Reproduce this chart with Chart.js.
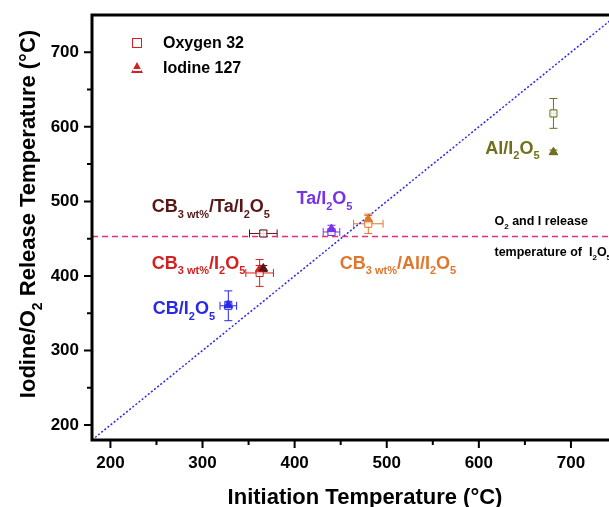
<!DOCTYPE html>
<html>
<head>
<meta charset="utf-8">
<script src="https://cdn.jsdelivr.net/npm/chart.js@4.4.0/dist/chart.umd.min.js"></script>
<style>
  html, body { margin: 0; padding: 0; background: #fff; overflow: hidden; }
  #chart { display: block; }
</style>
</head>
<body>
<canvas id="chart" width="623" height="507"></canvas>
<script>
// --- data ---
const materials = ['CB/I_2O_5', 'CB_{3 wt%}/I_2O_5', 'CB_{3 wt%}/Ta/I_2O_5', 'Ta/I_2O_5', 'CB_{3 wt%}/Al/I_2O_5', 'Al/I_2O_5'];
const colors = ['rgb(40,40,235)', 'rgb(212,32,32)', 'rgb(88,22,22)', 'rgb(118,52,232)', 'rgb(226,118,44)', 'rgb(112,112,28)'];
const initTemp = [328, 362, 366, 440, 480, 681];
const initErr = [9, 15, 15, 9, 16, 2];
const oxygenTemp = [360, 404, 457, 459, 470, 618];
const oxygenErr = [20, 18, 4, 4, 13, 20];
const iodineTemp = [361, 409, 410, 463, 476, 566];
const iodineErr = [5, 5, 4, 5, 5, 3];

// label anchor points (data units)
const labelX = [246, 245, 245, 402, 449, 607];
const labelY = [349, 410, 486, 496, 410, 564];

const releaseTemp = 453;           // O2 and I release temperature of I2O5
const diagRange = [180, 750];      // y = x guide
const xTicks = [200, 300, 400, 500, 600, 700];
const yTicks = [200, 300, 400, 500, 600, 700];
const xMinor = [250, 350, 450, 550, 650, 750];
const yMinor = [250, 350, 450, 550, 650];

const FONT = 'Arial, "Liberation Sans", sans-serif';

// draw "A_{sub}B_2" style strings
function splitRich(str) {
    const parts = [];
    const re = /_\{([^}]*)\}|_(.)|([^_]+)/g;
    let m;
    while ((m = re.exec(str)) !== null) {
        if (m[1] !== undefined) parts.push({t: m[1], sub: true});
        else if (m[2] !== undefined) parts.push({t: m[2], sub: true});
        else parts.push({t: m[3], sub: false});
    }
    return parts;
}

function richWidth(ctx, str, size) {
    let w = 0;
    for (const p of splitRich(str)) {
        ctx.font = `bold ${p.sub ? Math.round(size * 0.62) : size}px ${FONT}`;
        w += ctx.measureText(p.t).width;
    }
    return w;
}

function drawRich(ctx, x, y, str, size, color) {
    ctx.fillStyle = color;
    ctx.textAlign = 'left';
    ctx.textBaseline = 'alphabetic';
    let cx = x;
    for (const p of splitRich(str)) {
        ctx.font = `bold ${p.sub ? Math.round(size * 0.62) : size}px ${FONT}`;
        ctx.fillText(p.t, cx, p.sub ? y + size * 0.32 : y);
        cx += ctx.measureText(p.t).width;
    }
}

const framePlugin = {
    id: 'frame',
    beforeDatasetsDraw(chart) {
        const ctx = chart.ctx;
        const xs = chart.scales.x, ys = chart.scales.y;
        ctx.save();
        ctx.lineWidth = 1;
        for (let i = 0; i < materials.length; i++) {
            ctx.strokeStyle = colors[i];
            const px = xs.getPixelForValue(initTemp[i]);
            const pyO = ys.getPixelForValue(oxygenTemp[i]);
            // horizontal bar at oxygen point
            const x0 = xs.getPixelForValue(initTemp[i] - initErr[i]);
            const x1 = xs.getPixelForValue(initTemp[i] + initErr[i]);
            ctx.beginPath();
            ctx.moveTo(x0, pyO); ctx.lineTo(x1, pyO);
            ctx.moveTo(x0, pyO - 4); ctx.lineTo(x0, pyO + 4);
            ctx.moveTo(x1, pyO - 4); ctx.lineTo(x1, pyO + 4);
            // vertical bars
            [[oxygenTemp[i], oxygenErr[i]], [iodineTemp[i], iodineErr[i]]].forEach(([v, e]) => {
                const y0 = ys.getPixelForValue(v - e);
                const y1 = ys.getPixelForValue(v + e);
                ctx.moveTo(px, y0); ctx.lineTo(px, y1);
                ctx.moveTo(px - 4, y0); ctx.lineTo(px + 4, y0);
                ctx.moveTo(px - 4, y1); ctx.lineTo(px + 4, y1);
            });
            ctx.stroke();
        }
        ctx.restore();
    },
    afterDraw(chart) {
        const ctx = chart.ctx;
        const area = chart.chartArea;
        const xs = chart.scales.x, ys = chart.scales.y;
        ctx.save();

        // frame (right side falls outside the 609px window)
        ctx.strokeStyle = '#000';
        ctx.lineWidth = 3;
        ctx.beginPath();
        ctx.moveTo(area.left, area.top); ctx.lineTo(area.right, area.top);
        ctx.moveTo(area.left, area.top - 1.5); ctx.lineTo(area.left, area.bottom + 1.5);
        ctx.moveTo(area.left, area.bottom); ctx.lineTo(area.right, area.bottom);
        ctx.stroke();

        // ticks
        ctx.lineWidth = 2;
        ctx.beginPath();
        xTicks.forEach(v => { const p = xs.getPixelForValue(v); ctx.moveTo(p, area.bottom); ctx.lineTo(p, area.bottom + 8); });
        xMinor.forEach(v => { const p = xs.getPixelForValue(v); ctx.moveTo(p, area.bottom); ctx.lineTo(p, area.bottom + 5); });
        yTicks.forEach(v => { const p = ys.getPixelForValue(v); ctx.moveTo(area.left, p); ctx.lineTo(area.left - 8, p); });
        yMinor.forEach(v => { const p = ys.getPixelForValue(v); ctx.moveTo(area.left, p); ctx.lineTo(area.left - 5, p); });
        ctx.stroke();

        // axis titles
        ctx.fillStyle = '#000';
        ctx.font = `bold 22px ${FONT}`;
        ctx.textAlign = 'center';
        ctx.textBaseline = 'alphabetic';
        ctx.fillText('Initiation Temperature (°C)', 365, 504);

        const yt = 'Iodine/O_2 Release Temperature (°C)';
        ctx.save();
        ctx.translate(35, 214);
        ctx.rotate(-Math.PI / 2);
        drawRich(ctx, -richWidth(ctx, yt, 22) / 2, 0, yt, 22, '#000');
        ctx.restore();

        // legend
        const lx = area.left + 45;
        ctx.lineWidth = 1;
        ctx.strokeStyle = 'rgb(212,32,32)';
        ctx.strokeRect(lx - 4.5, area.top + 23.5, 9, 9);
        ctx.fillStyle = 'rgb(212,32,32)';
        ctx.beginPath();
        ctx.moveTo(lx, area.top + 47); ctx.lineTo(lx + 6, area.top + 58); ctx.lineTo(lx - 6, area.top + 58);
        ctx.closePath(); ctx.fill();
        ctx.fillStyle = '#fff';
        ctx.fillRect(lx - 4, area.top + 54, 8, 2);
        ctx.fillStyle = '#000';
        ctx.font = `bold 16px ${FONT}`;
        ctx.textAlign = 'left';
        ctx.textBaseline = 'middle';
        ctx.fillText('Oxygen 32', lx + 26, area.top + 29);
        ctx.fillText('Iodine 127', lx + 26, area.top + 54);

        // sample labels
        for (let i = 0; i < materials.length; i++) {
            drawRich(ctx, xs.getPixelForValue(labelX[i]), ys.getPixelForValue(labelY[i]), materials[i], 18, colors[i]);
        }
        const rx = xs.getPixelForValue(617);
        drawRich(ctx, rx, ys.getPixelForValue(releaseTemp + 16), 'O_2 and I release', 12.5, '#000');
        drawRich(ctx, rx, ys.getPixelForValue(releaseTemp - 26), 'temperature of  I_2O_5', 12.5, '#000');
        ctx.restore();
    }
};

new Chart(document.getElementById('chart'), {
    type: 'scatter',
    data: {
        datasets: [
            {
                label: 'Oxygen 32',
                data: initTemp.map((x, i) => ({x, y: oxygenTemp[i]})),
                pointStyle: 'rect',
                pointRadius: 5,
                backgroundColor: 'rgba(255,255,255,0.85)',
                borderColor: colors,
                borderWidth: 1,
                order: 2
            },
            {
                label: 'Iodine 127',
                data: initTemp.map((x, i) => ({x, y: iodineTemp[i]})),
                pointStyle: 'triangle',
                pointRadius: 5,
                backgroundColor: colors,
                borderColor: colors,
                borderWidth: 1,
                order: 1
            },
            {
                type: 'line',
                data: diagRange.map(v => ({x: v, y: v})),
                borderColor: 'rgb(40,40,240)',
                borderWidth: 1.5,
                borderDash: [2, 2],
                pointRadius: 0,
                order: 4
            },
            {
                type: 'line',
                data: diagRange.map(v => ({x: v, y: releaseTemp})),
                borderColor: 'rgb(228,46,128)',
                borderWidth: 1.5,
                borderDash: [6, 4],
                pointRadius: 0,
                order: 3
            }
        ]
    },
    options: {
        responsive: false,
        animation: false,
        layout: { padding: { top: 15, right: 1, left: 0, bottom: 0 } },
        plugins: { legend: { display: false }, tooltip: { enabled: false } },
        scales: {
            x: {
                type: 'linear',
                min: 180,
                max: 750,
                grid: { display: false, drawTicks: false },
                border: { display: false },
                afterFit: (scale) => {
                    scale.height = 67;
                    scale.paddingLeft = 0; scale.paddingRight = 0;
                },
                afterBuildTicks: (scale) => { scale.ticks = xTicks.map(v => ({value: v})); },
                ticks: {
                    padding: 13,
                    color: '#000',
                    font: { family: FONT, size: 17, weight: 'bold' }
                }
            },
            y: {
                type: 'linear',
                min: 180,
                max: 750,
                grid: { display: false, drawTicks: false },
                border: { display: false },
                afterFit: (scale) => {
                    scale.width = 92;
                    scale.paddingTop = 0; scale.paddingBottom = 0;
                },
                afterBuildTicks: (scale) => { scale.ticks = yTicks.map(v => ({value: v})); },
                ticks: {
                    padding: 13,
                    color: '#000',
                    font: { family: FONT, size: 17, weight: 'bold' }
                }
            }
        }
    },
    plugins: [framePlugin]
});
</script>
</body>
</html>
